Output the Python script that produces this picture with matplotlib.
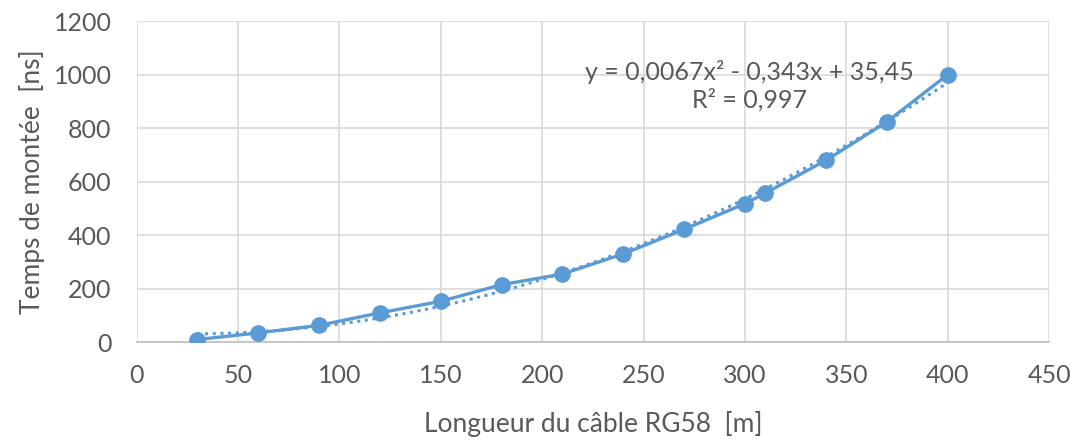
import matplotlib.pyplot as plt
import numpy as np

# cable length [m] and rise time [ns]
length_m = [30, 60, 90, 120, 150, 180, 210, 240, 270, 300, 310, 340, 370, 400]
rise_ns = [10, 35, 63, 110, 153, 215, 255, 330, 422, 518, 557, 680, 824, 1000]

# polynomial trendline (order 2) as printed on the chart
coef = [0.0067, -0.343, 35.45]
eq_label = "y = 0,0067x² - 0,343x + 35,45"
r2_label = "R² = 0,997"

blue = "#5B9BD5"
grey = "#595959"

plt.rcParams["font.family"] = ["Lato", "DejaVu Sans"]

fig = plt.figure(figsize=(10.76, 4.41), dpi=100)
ax = fig.add_axes([0.127, 0.224, 0.848, 0.728])

xs = np.linspace(min(length_m), max(length_m), 200)
ax.plot(xs, np.polyval(coef, xs), color=blue, lw=2.2, ls=(0, (1, 1.5)), zorder=2)
ax.plot(length_m, rise_ns, color=blue, lw=2.4, marker="o", markersize=11, zorder=3)

ax.set_xlim(0, 450)
ax.set_ylim(0, 1200)
ax.set_xticks(np.arange(0, 451, 50))
ax.set_yticks(np.arange(0, 1201, 200))
ax.grid(True, color="#D9D9D9", lw=1.2)
ax.set_axisbelow(True)
for side in ("top", "right", "left"):
    ax.spines[side].set_visible(False)
ax.spines["bottom"].set_color("#BFBFBF")
ax.spines["bottom"].set_linewidth(1.2)
ax.tick_params(length=0, labelsize=18, colors=grey)
ax.tick_params(axis="y", pad=18)
ax.tick_params(axis="x", pad=16)

ax.set_xlabel("Longueur du câble RG58  [m]", fontsize=19, color=grey, labelpad=17)
ax.set_ylabel("Temps de montée  [ns]", fontsize=19, color=grey, labelpad=6)

ax.text(302, 1010, eq_label, ha="center", va="center", fontsize=18, color=grey)
ax.text(302, 905, r2_label, ha="center", va="center", fontsize=18, color=grey)

fig.savefig("out.png", dpi=100)
